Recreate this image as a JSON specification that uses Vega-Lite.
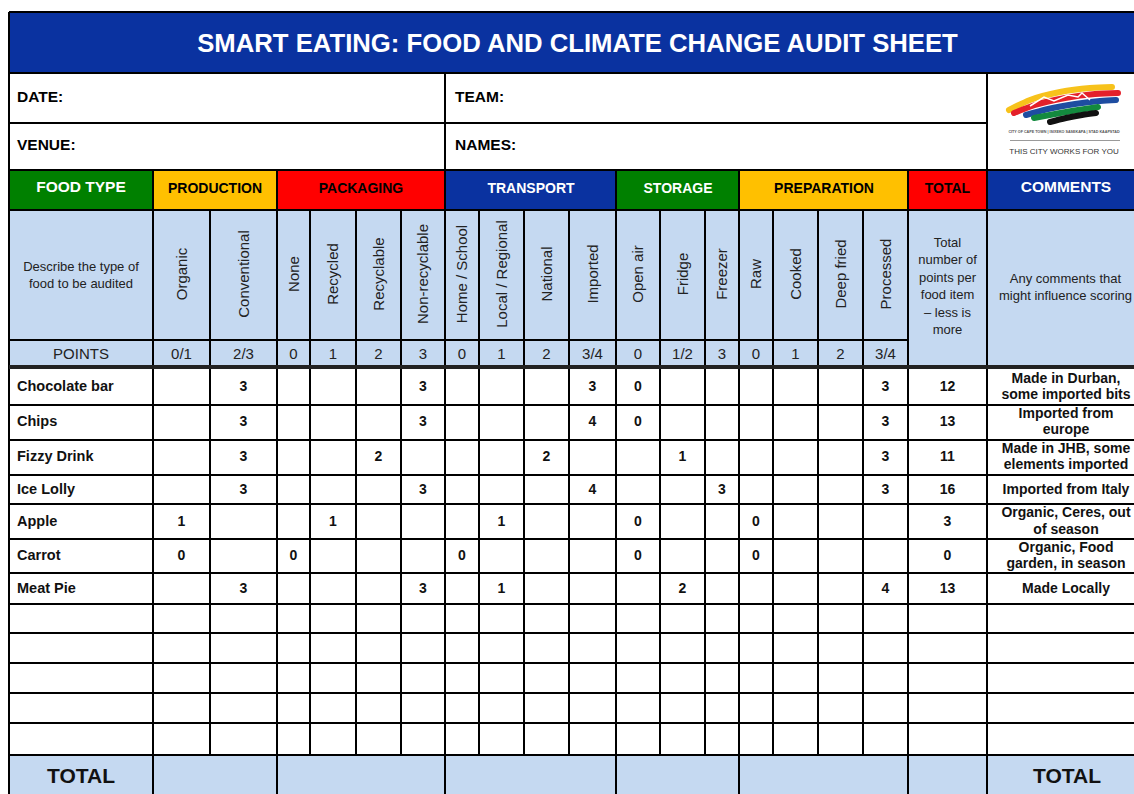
{
  "$schema": "https://vega.github.io/schema/vega-lite/v6.json",
  "width": 1134,
  "height": 794,
  "padding": 0,
  "autosize": {"type": "none"},
  "background": "white",
  "config": {"view": {"stroke": null}, "font": "Liberation Sans"},
  "datasets": {
    "fills": [
      {"part": "title", "x": 9, "x2": 1140, "y": 12, "y2": 73},
      {"part": "FOOD TYPE", "x": 9, "x2": 153, "y": 170, "y2": 210},
      {"part": "PRODUCTION", "x": 153, "x2": 277, "y": 170, "y2": 210},
      {"part": "PACKAGING", "x": 277, "x2": 445, "y": 170, "y2": 210},
      {"part": "TRANSPORT", "x": 445, "x2": 616, "y": 170, "y2": 210},
      {"part": "STORAGE", "x": 616, "x2": 739, "y": 170, "y2": 210},
      {"part": "PREPARATION", "x": 739, "x2": 908, "y": 170, "y2": 210},
      {"part": "TOTAL", "x": 908, "x2": 987, "y": 170, "y2": 210},
      {"part": "COMMENTS", "x": 987, "x2": 1140, "y": 170, "y2": 210},
      {"part": "guide", "x": 9, "x2": 1140, "y": 210, "y2": 367},
      {"part": "guide", "x": 9, "x2": 1140, "y": 755, "y2": 800}
    ],
    "lines": [
      {"weight": "thin", "x": 9, "x2": 1140, "y": 12, "y2": 12},
      {"weight": "thin", "x": 9, "x2": 1140, "y": 73, "y2": 73},
      {"weight": "thin", "x": 9, "x2": 987, "y": 123, "y2": 123},
      {"weight": "thin", "x": 9, "x2": 1140, "y": 170, "y2": 170},
      {"weight": "thin", "x": 9, "x2": 1140, "y": 210, "y2": 210},
      {"weight": "thin", "x": 9, "x2": 908, "y": 340, "y2": 340},
      {"weight": "thick", "x": 9, "x2": 1140, "y": 367, "y2": 367},
      {"weight": "thin", "x": 9, "x2": 1140, "y": 405, "y2": 405},
      {"weight": "thin", "x": 9, "x2": 1140, "y": 440, "y2": 440},
      {"weight": "thin", "x": 9, "x2": 1140, "y": 475, "y2": 475},
      {"weight": "thin", "x": 9, "x2": 1140, "y": 504, "y2": 504},
      {"weight": "thin", "x": 9, "x2": 1140, "y": 539, "y2": 539},
      {"weight": "thin", "x": 9, "x2": 1140, "y": 573, "y2": 573},
      {"weight": "thin", "x": 9, "x2": 1140, "y": 604, "y2": 604},
      {"weight": "thin", "x": 9, "x2": 1140, "y": 633, "y2": 633},
      {"weight": "thin", "x": 9, "x2": 1140, "y": 663, "y2": 663},
      {"weight": "thin", "x": 9, "x2": 1140, "y": 693, "y2": 693},
      {"weight": "thin", "x": 9, "x2": 1140, "y": 723, "y2": 723},
      {"weight": "thin", "x": 9, "x2": 1140, "y": 755, "y2": 755},
      {"weight": "thin", "x": 9, "x2": 9, "y": 12, "y2": 800},
      {"weight": "thin", "x": 445, "x2": 445, "y": 73, "y2": 170},
      {"weight": "thin", "x": 987, "x2": 987, "y": 73, "y2": 170},
      {"weight": "thin", "x": 153, "x2": 153, "y": 170, "y2": 800},
      {"weight": "thin", "x": 277, "x2": 277, "y": 170, "y2": 800},
      {"weight": "thin", "x": 445, "x2": 445, "y": 170, "y2": 800},
      {"weight": "thin", "x": 616, "x2": 616, "y": 170, "y2": 800},
      {"weight": "thin", "x": 739, "x2": 739, "y": 170, "y2": 800},
      {"weight": "thin", "x": 908, "x2": 908, "y": 170, "y2": 800},
      {"weight": "thin", "x": 987, "x2": 987, "y": 170, "y2": 800},
      {"weight": "thin", "x": 210, "x2": 210, "y": 210, "y2": 755},
      {"weight": "thin", "x": 310, "x2": 310, "y": 210, "y2": 755},
      {"weight": "thin", "x": 356, "x2": 356, "y": 210, "y2": 755},
      {"weight": "thin", "x": 401, "x2": 401, "y": 210, "y2": 755},
      {"weight": "thin", "x": 479, "x2": 479, "y": 210, "y2": 755},
      {"weight": "thin", "x": 524, "x2": 524, "y": 210, "y2": 755},
      {"weight": "thin", "x": 569, "x2": 569, "y": 210, "y2": 755},
      {"weight": "thin", "x": 660, "x2": 660, "y": 210, "y2": 755},
      {"weight": "thin", "x": 705, "x2": 705, "y": 210, "y2": 755},
      {"weight": "thin", "x": 773, "x2": 773, "y": 210, "y2": 755},
      {"weight": "thin", "x": 818, "x2": 818, "y": 210, "y2": 755},
      {"weight": "thin", "x": 863, "x2": 863, "y": 210, "y2": 755}
    ],
    "labels": [
      {"role": "title", "text": "SMART EATING: FOOD AND CLIMATE CHANGE AUDIT SHEET", "x": 577.5, "y": 44},
      {"role": "field", "text": "DATE:", "x": 17, "y": 97},
      {"role": "field", "text": "TEAM:", "x": 455, "y": 97},
      {"role": "field", "text": "VENUE:", "x": 17, "y": 145},
      {"role": "field", "text": "NAMES:", "x": 455, "y": 145},
      {"role": "headL", "text": "FOOD TYPE", "x": 81, "y": 187},
      {"role": "headL", "text": "COMMENTS", "x": 1066, "y": 187},
      {"role": "head", "text": "PRODUCTION", "x": 215, "y": 189},
      {"role": "head", "text": "PACKAGING", "x": 361, "y": 189},
      {"role": "head", "text": "TRANSPORT", "x": 531, "y": 189},
      {"role": "head", "text": "STORAGE", "x": 678, "y": 189},
      {"role": "head", "text": "PREPARATION", "x": 824, "y": 189},
      {"role": "head", "text": "TOTAL", "x": 947.5, "y": 189},
      {"role": "desc", "text": "Describe the type of\nfood to be audited", "x": 81, "y": 267},
      {"role": "desc", "text": "Total\nnumber of\npoints per\nfood item\n– less is\nmore", "x": 947.5, "y": 243},
      {"role": "desc", "text": "Any comments that\nmight influence scoring", "x": 1065.5, "y": 278.5},
      {"role": "pts", "text": "POINTS", "x": 81, "y": 354},
      {"role": "grand", "text": "TOTAL", "x": 81, "y": 777},
      {"role": "grand", "text": "TOTAL", "x": 1067, "y": 777},
      {"role": "tiny", "text": "CITY OF CAPE TOWN | ISIXEKO SASEKAPA | STAD KAAPSTAD", "x": 1064, "y": 132},
      {"role": "tag", "text": "THIS CITY WORKS FOR YOU", "x": 1064, "y": 152}
    ],
    "cols": [
      {"criterion": "Organic", "scale": "0/1", "x": 181.5},
      {"criterion": "Conventional", "scale": "2/3", "x": 243.5},
      {"criterion": "None", "scale": "0", "x": 293.5},
      {"criterion": "Recycled", "scale": "1", "x": 333},
      {"criterion": "Recyclable", "scale": "2", "x": 378.5},
      {"criterion": "Non-recyclable", "scale": "3", "x": 423},
      {"criterion": "Home / School", "scale": "0", "x": 462},
      {"criterion": "Local / Regional", "scale": "1", "x": 501.5},
      {"criterion": "National", "scale": "2", "x": 546.5},
      {"criterion": "Imported", "scale": "3/4", "x": 592.5},
      {"criterion": "Open air", "scale": "0", "x": 638},
      {"criterion": "Fridge", "scale": "1/2", "x": 682.5},
      {"criterion": "Freezer", "scale": "3", "x": 722},
      {"criterion": "Raw", "scale": "0", "x": 756},
      {"criterion": "Cooked", "scale": "1", "x": 795.5},
      {"criterion": "Deep fried", "scale": "2", "x": 840.5},
      {"criterion": "Processed", "scale": "3/4", "x": 885.5}
    ],
    "foods": [
      {"food": "Chocolate bar", "y": 387, "total": 12, "comment": "Made in Durban,\nsome imported bits"},
      {"food": "Chips", "y": 422, "total": 13, "comment": "Imported from\neurope"},
      {"food": "Fizzy Drink", "y": 457, "total": 11, "comment": "Made in JHB, some\nelements imported"},
      {"food": "Ice Lolly", "y": 489.5, "total": 16, "comment": "Imported from Italy"},
      {"food": "Apple", "y": 521.5, "total": 3, "comment": "Organic, Ceres, out\nof season"},
      {"food": "Carrot", "y": 556, "total": 0, "comment": "Organic, Food\ngarden, in season"},
      {"food": "Meat Pie", "y": 588.5, "total": 13, "comment": "Made Locally"}
    ],
    "scores": [
      {"food": "Chocolate bar", "criterion": "Conventional", "points": 3},
      {"food": "Chocolate bar", "criterion": "Non-recyclable", "points": 3},
      {"food": "Chocolate bar", "criterion": "Imported", "points": 3},
      {"food": "Chocolate bar", "criterion": "Open air", "points": 0},
      {"food": "Chocolate bar", "criterion": "Processed", "points": 3},
      {"food": "Chips", "criterion": "Conventional", "points": 3},
      {"food": "Chips", "criterion": "Non-recyclable", "points": 3},
      {"food": "Chips", "criterion": "Imported", "points": 4},
      {"food": "Chips", "criterion": "Open air", "points": 0},
      {"food": "Chips", "criterion": "Processed", "points": 3},
      {"food": "Fizzy Drink", "criterion": "Conventional", "points": 3},
      {"food": "Fizzy Drink", "criterion": "Recyclable", "points": 2},
      {"food": "Fizzy Drink", "criterion": "National", "points": 2},
      {"food": "Fizzy Drink", "criterion": "Fridge", "points": 1},
      {"food": "Fizzy Drink", "criterion": "Processed", "points": 3},
      {"food": "Ice Lolly", "criterion": "Conventional", "points": 3},
      {"food": "Ice Lolly", "criterion": "Non-recyclable", "points": 3},
      {"food": "Ice Lolly", "criterion": "Imported", "points": 4},
      {"food": "Ice Lolly", "criterion": "Freezer", "points": 3},
      {"food": "Ice Lolly", "criterion": "Processed", "points": 3},
      {"food": "Apple", "criterion": "Organic", "points": 1},
      {"food": "Apple", "criterion": "Recycled", "points": 1},
      {"food": "Apple", "criterion": "Local / Regional", "points": 1},
      {"food": "Apple", "criterion": "Open air", "points": 0},
      {"food": "Apple", "criterion": "Raw", "points": 0},
      {"food": "Carrot", "criterion": "Organic", "points": 0},
      {"food": "Carrot", "criterion": "None", "points": 0},
      {"food": "Carrot", "criterion": "Home / School", "points": 0},
      {"food": "Carrot", "criterion": "Open air", "points": 0},
      {"food": "Carrot", "criterion": "Raw", "points": 0},
      {"food": "Meat Pie", "criterion": "Conventional", "points": 3},
      {"food": "Meat Pie", "criterion": "Non-recyclable", "points": 3},
      {"food": "Meat Pie", "criterion": "Local / Regional", "points": 1},
      {"food": "Meat Pie", "criterion": "Fridge", "points": 2},
      {"food": "Meat Pie", "criterion": "Processed", "points": 4}
    ],
    "logo": [
      {"band": "yellow", "i": 0, "x": 1009, "y": 110},
      {"band": "yellow", "i": 1, "x": 1030, "y": 100},
      {"band": "yellow", "i": 2, "x": 1060, "y": 92},
      {"band": "yellow", "i": 3, "x": 1090, "y": 88},
      {"band": "yellow", "i": 4, "x": 1112, "y": 87},
      {"band": "red", "i": 0, "x": 1014, "y": 113},
      {"band": "red", "i": 1, "x": 1035, "y": 105},
      {"band": "red", "i": 2, "x": 1065, "y": 98},
      {"band": "red", "i": 3, "x": 1095, "y": 94},
      {"band": "red", "i": 4, "x": 1118, "y": 93},
      {"band": "blue", "i": 0, "x": 1026, "y": 115},
      {"band": "blue", "i": 1, "x": 1048, "y": 109},
      {"band": "blue", "i": 2, "x": 1075, "y": 104},
      {"band": "blue", "i": 3, "x": 1100, "y": 101},
      {"band": "blue", "i": 4, "x": 1116, "y": 100},
      {"band": "green", "i": 0, "x": 1034, "y": 118},
      {"band": "green", "i": 1, "x": 1055, "y": 114},
      {"band": "green", "i": 2, "x": 1078, "y": 110},
      {"band": "green", "i": 3, "x": 1098, "y": 107},
      {"band": "black", "i": 0, "x": 1050, "y": 122},
      {"band": "black", "i": 1, "x": 1066, "y": 118},
      {"band": "black", "i": 2, "x": 1082, "y": 115},
      {"band": "black", "i": 3, "x": 1096, "y": 113}
    ],
    "ridge": [
      {"i": 0, "x": 1030, "y": 106},
      {"i": 1, "x": 1044, "y": 97},
      {"i": 2, "x": 1054, "y": 101},
      {"i": 3, "x": 1068, "y": 95},
      {"i": 4, "x": 1078, "y": 97},
      {"i": 5, "x": 1082, "y": 93},
      {"i": 6, "x": 1090, "y": 100}
    ],
    "divider": [
      {"x": 1010, "x2": 1120, "y": 140.5}
    ]
  },
  "layer": [
    {
      "data": {"name": "fills"},
      "mark": {"type": "rect"},
      "encoding": {
        "x": {"field": "x", "type": "quantitative", "scale": {"domain": [0, 1134], "nice": false, "zero": false}, "axis": null},
        "y": {"field": "y", "type": "quantitative", "scale": {"domain": [0, 794], "reverse": true, "nice": false, "zero": false}, "axis": null},
        "x2": {"field": "x2"},
        "y2": {"field": "y2"},
        "color": {
          "field": "part", "type": "nominal", "legend": null,
          "scale": {
            "domain": ["title", "FOOD TYPE", "PRODUCTION", "PACKAGING", "TRANSPORT", "STORAGE", "PREPARATION", "TOTAL", "COMMENTS", "guide"],
            "range": ["#0A32A0", "#008000", "#FFC000", "#FF0000", "#0A32A0", "#008000", "#FFC000", "#FF0000", "#0A32A0", "#C5D9F1"]
          }
        }
      }
    },
    {
      "data": {"name": "lines"},
      "transform": [{"filter": "datum.weight === 'thin'"}],
      "mark": {"type": "rule", "color": "#000000", "strokeWidth": 2},
      "encoding": {
        "x": {"field": "x", "type": "quantitative", "scale": {"domain": [0, 1134], "nice": false, "zero": false}, "axis": null},
        "y": {"field": "y", "type": "quantitative", "scale": {"domain": [0, 794], "reverse": true, "nice": false, "zero": false}, "axis": null},
        "x2": {"field": "x2"}, "y2": {"field": "y2"}
      }
    },
    {
      "data": {"name": "lines"},
      "transform": [{"filter": "datum.weight === 'thick'"}],
      "mark": {"type": "rule", "color": "#222222", "strokeWidth": 4},
      "encoding": {
        "x": {"field": "x", "type": "quantitative", "scale": {"domain": [0, 1134], "nice": false, "zero": false}, "axis": null},
        "y": {"field": "y", "type": "quantitative", "scale": {"domain": [0, 794], "reverse": true, "nice": false, "zero": false}, "axis": null},
        "x2": {"field": "x2"}, "y2": {"field": "y2"}
      }
    },
    {
      "data": {"name": "logo"},
      "mark": {"type": "line", "strokeWidth": 6, "interpolate": "monotone", "strokeCap": "round"},
      "encoding": {
        "x": {"field": "x", "type": "quantitative", "scale": {"domain": [0, 1134], "nice": false, "zero": false}, "axis": null},
        "y": {"field": "y", "type": "quantitative", "scale": {"domain": [0, 794], "reverse": true, "nice": false, "zero": false}, "axis": null},
        "order": {"field": "i", "type": "quantitative"},
        "color": {
          "field": "band", "type": "nominal", "legend": null,
          "scale": {"domain": ["yellow", "red", "blue", "green", "black"], "range": ["#F7C21B", "#E4202A", "#1E4DA1", "#138A3E", "#111111"]}
        }
      }
    },
    {
      "data": {"name": "ridge"},
      "mark": {"type": "line", "strokeWidth": 1.5, "color": "#ffffff"},
      "encoding": {
        "x": {"field": "x", "type": "quantitative", "scale": {"domain": [0, 1134], "nice": false, "zero": false}, "axis": null},
        "y": {"field": "y", "type": "quantitative", "scale": {"domain": [0, 794], "reverse": true, "nice": false, "zero": false}, "axis": null},
        "order": {"field": "i", "type": "quantitative"}
      }
    },
    {
      "data": {"name": "divider"},
      "mark": {"type": "rule", "color": "#9a9a9a", "strokeWidth": 1},
      "encoding": {
        "x": {"field": "x", "type": "quantitative", "scale": {"domain": [0, 1134], "nice": false, "zero": false}, "axis": null},
        "y": {"field": "y", "type": "quantitative", "scale": {"domain": [0, 794], "reverse": true, "nice": false, "zero": false}, "axis": null},
        "x2": {"field": "x2"}
      }
    },
    {
      "data": {"name": "labels"},
      "transform": [{"filter": "datum.role === 'title'"}],
      "mark": {"type": "text", "fontSize": 25.7, "fontWeight": "bold", "color": "#ffffff", "align": "center", "baseline": "middle"},
      "encoding": {
        "x": {"field": "x", "type": "quantitative", "scale": {"domain": [0, 1134], "nice": false, "zero": false}, "axis": null},
        "y": {"field": "y", "type": "quantitative", "scale": {"domain": [0, 794], "reverse": true, "nice": false, "zero": false}, "axis": null},
        "text": {"field": "text"}
      }
    },
    {
      "data": {"name": "labels"},
      "transform": [{"filter": "datum.role === 'field'"}],
      "mark": {"type": "text", "fontSize": 15.5, "fontWeight": "bold", "color": "#000000", "align": "left", "baseline": "middle"},
      "encoding": {
        "x": {"field": "x", "type": "quantitative", "scale": {"domain": [0, 1134], "nice": false, "zero": false}, "axis": null},
        "y": {"field": "y", "type": "quantitative", "scale": {"domain": [0, 794], "reverse": true, "nice": false, "zero": false}, "axis": null},
        "text": {"field": "text"}
      }
    },
    {
      "data": {"name": "labels"},
      "transform": [{"filter": "datum.role === 'headL'"}],
      "mark": {"type": "text", "fontSize": 15.5, "fontWeight": "bold", "color": "#ffffff", "align": "center", "baseline": "middle"},
      "encoding": {
        "x": {"field": "x", "type": "quantitative", "scale": {"domain": [0, 1134], "nice": false, "zero": false}, "axis": null},
        "y": {"field": "y", "type": "quantitative", "scale": {"domain": [0, 794], "reverse": true, "nice": false, "zero": false}, "axis": null},
        "text": {"field": "text"}
      }
    },
    {
      "data": {"name": "labels"},
      "transform": [{"filter": "datum.role === 'head'"}],
      "mark": {"type": "text", "fontSize": 14, "fontWeight": "bold", "align": "center", "baseline": "middle"},
      "encoding": {
        "x": {"field": "x", "type": "quantitative", "scale": {"domain": [0, 1134], "nice": false, "zero": false}, "axis": null},
        "y": {"field": "y", "type": "quantitative", "scale": {"domain": [0, 794], "reverse": true, "nice": false, "zero": false}, "axis": null},
        "text": {"field": "text"},
        "color": {
          "field": "text", "type": "nominal", "legend": null,
          "scale": {"domain": ["PRODUCTION", "PACKAGING", "TRANSPORT", "STORAGE", "PREPARATION", "TOTAL"], "range": ["#000000", "#000000", "#ffffff", "#ffffff", "#000000", "#000000"]}
        }
      }
    },
    {
      "data": {"name": "labels"},
      "transform": [{"filter": "datum.role === 'desc'"}],
      "mark": {"type": "text", "fontSize": 13, "color": "#222222", "align": "center", "baseline": "middle", "lineBreak": "\n", "lineHeight": 17.4},
      "encoding": {
        "x": {"field": "x", "type": "quantitative", "scale": {"domain": [0, 1134], "nice": false, "zero": false}, "axis": null},
        "y": {"field": "y", "type": "quantitative", "scale": {"domain": [0, 794], "reverse": true, "nice": false, "zero": false}, "axis": null},
        "text": {"field": "text"}
      }
    },
    {
      "data": {"name": "labels"},
      "transform": [{"filter": "datum.role === 'pts'"}],
      "mark": {"type": "text", "fontSize": 15, "color": "#222222", "align": "center", "baseline": "middle"},
      "encoding": {
        "x": {"field": "x", "type": "quantitative", "scale": {"domain": [0, 1134], "nice": false, "zero": false}, "axis": null},
        "y": {"field": "y", "type": "quantitative", "scale": {"domain": [0, 794], "reverse": true, "nice": false, "zero": false}, "axis": null},
        "text": {"field": "text"}
      }
    },
    {
      "data": {"name": "labels"},
      "transform": [{"filter": "datum.role === 'grand'"}],
      "mark": {"type": "text", "fontSize": 21, "fontWeight": "bold", "color": "#111111", "align": "center", "baseline": "middle"},
      "encoding": {
        "x": {"field": "x", "type": "quantitative", "scale": {"domain": [0, 1134], "nice": false, "zero": false}, "axis": null},
        "y": {"field": "y", "type": "quantitative", "scale": {"domain": [0, 794], "reverse": true, "nice": false, "zero": false}, "axis": null},
        "text": {"field": "text"}
      }
    },
    {
      "data": {"name": "labels"},
      "transform": [{"filter": "datum.role === 'tiny'"}],
      "mark": {"type": "text", "fontSize": 3.7, "fontWeight": "bold", "color": "#555555", "align": "center", "baseline": "middle"},
      "encoding": {
        "x": {"field": "x", "type": "quantitative", "scale": {"domain": [0, 1134], "nice": false, "zero": false}, "axis": null},
        "y": {"field": "y", "type": "quantitative", "scale": {"domain": [0, 794], "reverse": true, "nice": false, "zero": false}, "axis": null},
        "text": {"field": "text"}
      }
    },
    {
      "data": {"name": "labels"},
      "transform": [{"filter": "datum.role === 'tag'"}],
      "mark": {"type": "text", "fontSize": 8, "color": "#333333", "align": "center", "baseline": "middle"},
      "encoding": {
        "x": {"field": "x", "type": "quantitative", "scale": {"domain": [0, 1134], "nice": false, "zero": false}, "axis": null},
        "y": {"field": "y", "type": "quantitative", "scale": {"domain": [0, 794], "reverse": true, "nice": false, "zero": false}, "axis": null},
        "text": {"field": "text"}
      }
    },
    {
      "data": {"name": "cols"},
      "mark": {"type": "text", "fontSize": 15, "color": "#222222", "align": "center", "baseline": "middle", "angle": 270},
      "encoding": {
        "x": {"field": "x", "type": "quantitative", "scale": {"domain": [0, 1134], "nice": false, "zero": false}, "axis": null},
        "y": {"datum": 274, "type": "quantitative", "scale": {"domain": [0, 794], "reverse": true, "nice": false, "zero": false}, "axis": null},
        "text": {"field": "criterion"}
      }
    },
    {
      "data": {"name": "cols"},
      "mark": {"type": "text", "fontSize": 15, "color": "#222222", "align": "center", "baseline": "middle"},
      "encoding": {
        "x": {"field": "x", "type": "quantitative", "scale": {"domain": [0, 1134], "nice": false, "zero": false}, "axis": null},
        "y": {"datum": 354, "type": "quantitative", "scale": {"domain": [0, 794], "reverse": true, "nice": false, "zero": false}, "axis": null},
        "text": {"field": "scale"}
      }
    },
    {
      "data": {"name": "foods"},
      "mark": {"type": "text", "fontSize": 14.5, "fontWeight": "bold", "color": "#111111", "align": "left", "baseline": "middle"},
      "encoding": {
        "x": {"datum": 17, "type": "quantitative", "scale": {"domain": [0, 1134], "nice": false, "zero": false}, "axis": null},
        "y": {"field": "y", "type": "quantitative", "scale": {"domain": [0, 794], "reverse": true, "nice": false, "zero": false}, "axis": null},
        "text": {"field": "food"}
      }
    },
    {
      "data": {"name": "foods"},
      "mark": {"type": "text", "fontSize": 14, "fontWeight": "bold", "color": "#111111", "align": "center", "baseline": "middle"},
      "encoding": {
        "x": {"datum": 947.5, "type": "quantitative", "scale": {"domain": [0, 1134], "nice": false, "zero": false}, "axis": null},
        "y": {"field": "y", "type": "quantitative", "scale": {"domain": [0, 794], "reverse": true, "nice": false, "zero": false}, "axis": null},
        "text": {"field": "total"}
      }
    },
    {
      "data": {"name": "foods"},
      "transform": [{"filter": "indexof(datum.comment, '\\n') >= 0"}],
      "mark": {"type": "text", "fontSize": 14, "fontWeight": "bold", "color": "#111111", "align": "center", "baseline": "middle", "lineBreak": "\n", "lineHeight": 16.5, "dy": -8.25},
      "encoding": {
        "x": {"datum": 1066, "type": "quantitative", "scale": {"domain": [0, 1134], "nice": false, "zero": false}, "axis": null},
        "y": {"field": "y", "type": "quantitative", "scale": {"domain": [0, 794], "reverse": true, "nice": false, "zero": false}, "axis": null},
        "text": {"field": "comment"}
      }
    },
    {
      "data": {"name": "foods"},
      "transform": [{"filter": "indexof(datum.comment, '\\n') < 0"}],
      "mark": {"type": "text", "fontSize": 14, "fontWeight": "bold", "color": "#111111", "align": "center", "baseline": "middle"},
      "encoding": {
        "x": {"datum": 1066, "type": "quantitative", "scale": {"domain": [0, 1134], "nice": false, "zero": false}, "axis": null},
        "y": {"field": "y", "type": "quantitative", "scale": {"domain": [0, 794], "reverse": true, "nice": false, "zero": false}, "axis": null},
        "text": {"field": "comment"}
      }
    },
    {
      "data": {"name": "scores"},
      "transform": [
        {"lookup": "food", "from": {"data": {"name": "foods"}, "key": "food", "fields": ["y"]}},
        {"lookup": "criterion", "from": {"data": {"name": "cols"}, "key": "criterion", "fields": ["x"]}}
      ],
      "mark": {"type": "text", "fontSize": 14, "fontWeight": "bold", "color": "#111111", "align": "center", "baseline": "middle"},
      "encoding": {
        "x": {"field": "x", "type": "quantitative", "scale": {"domain": [0, 1134], "nice": false, "zero": false}, "axis": null},
        "y": {"field": "y", "type": "quantitative", "scale": {"domain": [0, 794], "reverse": true, "nice": false, "zero": false}, "axis": null},
        "text": {"field": "points"}
      }
    }
  ],
  "resolve": {"scale": {"color": "independent"}}
}
